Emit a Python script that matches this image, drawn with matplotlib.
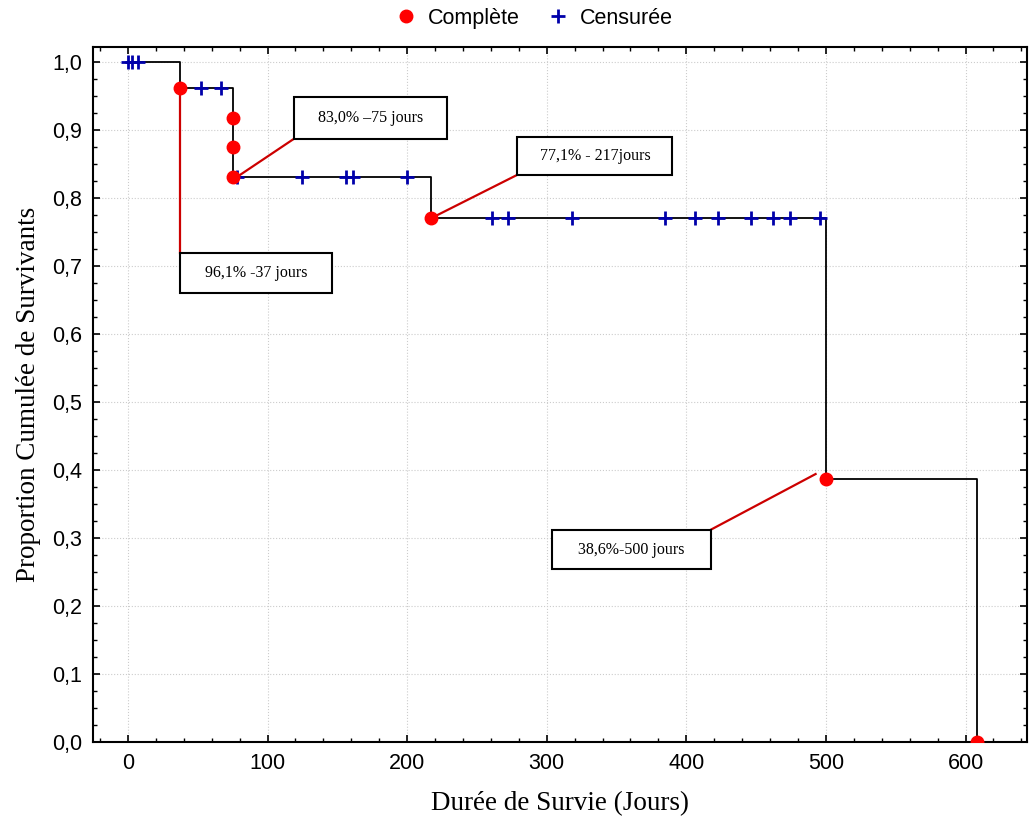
import matplotlib
matplotlib.use('Agg')
import matplotlib.pyplot as plt
from matplotlib.patches import Rectangle
from matplotlib.ticker import MultipleLocator, FuncFormatter

# courbe de survie (Kaplan-Meier)
temps = [0, 37, 75, 217, 500, 608]
survie = [1.0, 0.961, 0.830, 0.771, 0.386, 0.0]

# evenements complets (deces)
comp_t = [37, 75, 75, 75, 217, 500, 608]
comp_s = [0.961, 0.918, 0.875, 0.830, 0.771, 0.386, 0.0]

# observations censurees
cens_t = [0, 3, 7, 52, 67, 78, 125, 156, 161, 200,
          261, 272, 318, 385, 406, 423, 446, 462, 474, 496]
cens_s = [1.0, 1.0, 1.0, 0.961, 0.961, 0.830, 0.830, 0.830, 0.830, 0.830,
          0.771, 0.771, 0.771, 0.771, 0.771, 0.771, 0.771, 0.771, 0.771, 0.771]

# etiquettes: texte, boite (x0, y0, x1, y1), ligne (xa, ya) -> (xb, yb)
etiquettes = [
    ("96,1% -37 jours", (37.2, 0.660, 146, 0.719), (37, 0.955, 37, 0.719)),
    ("83,0% \u201375 jours", (119, 0.887, 228.4, 0.949), (79, 0.832, 119, 0.887)),
    ("77,1% - 217jours", (279, 0.834, 390, 0.890), (219, 0.772, 279, 0.834)),
    ("38,6%-500 jours", (303.6, 0.254, 417.4, 0.312), (417.4, 0.312, 492.6, 0.394)),
]

fig = plt.figure(figsize=(10.29, 8.23), dpi=100)
ax = fig.add_axes([0.0904, 0.0984, 0.9076, 0.8446])

ax.step(temps, survie, where='post', color='black', lw=1.3, zorder=3)
ax.plot(cens_t, cens_s, ls='none', marker='+', color='#0000aa', ms=10, mew=2,
        zorder=4, label='Censurée')
ax.plot(comp_t, comp_s, ls='none', marker='o', color='#ff0000', ms=9,
        zorder=5, label='Complète', clip_on=True)

for txt, (x0, y0, x1, y1), (xa, ya, xb, yb) in etiquettes:
    ax.plot([xa, xb], [ya, yb], color='#cc0000', lw=1.6, zorder=2)
    ax.add_patch(Rectangle((x0, y0), x1 - x0, y1 - y0, facecolor='white',
                           edgecolor='black', lw=1.5, zorder=6))
    ax.text((x0 + x1) / 2, (y0 + y1) / 2, txt, ha='center', va='center',
            family='Liberation Serif', fontsize=11.5, zorder=7)

ax.set_xlim(-25, 644)
ax.set_ylim(0, 1.022)
ax.xaxis.set_major_locator(MultipleLocator(100))
ax.xaxis.set_minor_locator(MultipleLocator(20))
ax.yaxis.set_major_locator(MultipleLocator(0.1))
ax.yaxis.set_minor_locator(MultipleLocator(0.025))
ax.yaxis.set_major_formatter(FuncFormatter(lambda v, p: ('%.1f' % v).replace('.', ',')))
ax.tick_params(which='both', direction='in', top=True, right=True,
               labelsize=15.5, labelfontfamily='Liberation Sans', pad=8)
ax.tick_params(which='major', length=5, width=1.2)
ax.tick_params(which='minor', length=3, width=1)
ax.grid(True, which='major', ls=':', color='#cccccc', lw=0.8)
for s in ax.spines.values():
    s.set_linewidth(1.5)

ax.set_xlabel('Durée de Survie (Jours)', family='Liberation Serif', fontsize=19.5, labelpad=12)
ax.set_ylabel('Proportion Cumulée de Survivants', family='Liberation Serif', fontsize=19.5, labelpad=8)

h, l = ax.get_legend_handles_labels()
fig.legend(h[::-1], l[::-1], loc='center', bbox_to_anchor=(533 / 1029, 0.978), ncol=2,
           frameon=False, prop={'family': 'Liberation Sans', 'size': 15.5},
           handletextpad=0.4, columnspacing=1.2, handlelength=1.2)

fig.savefig('out.png', dpi=100)
